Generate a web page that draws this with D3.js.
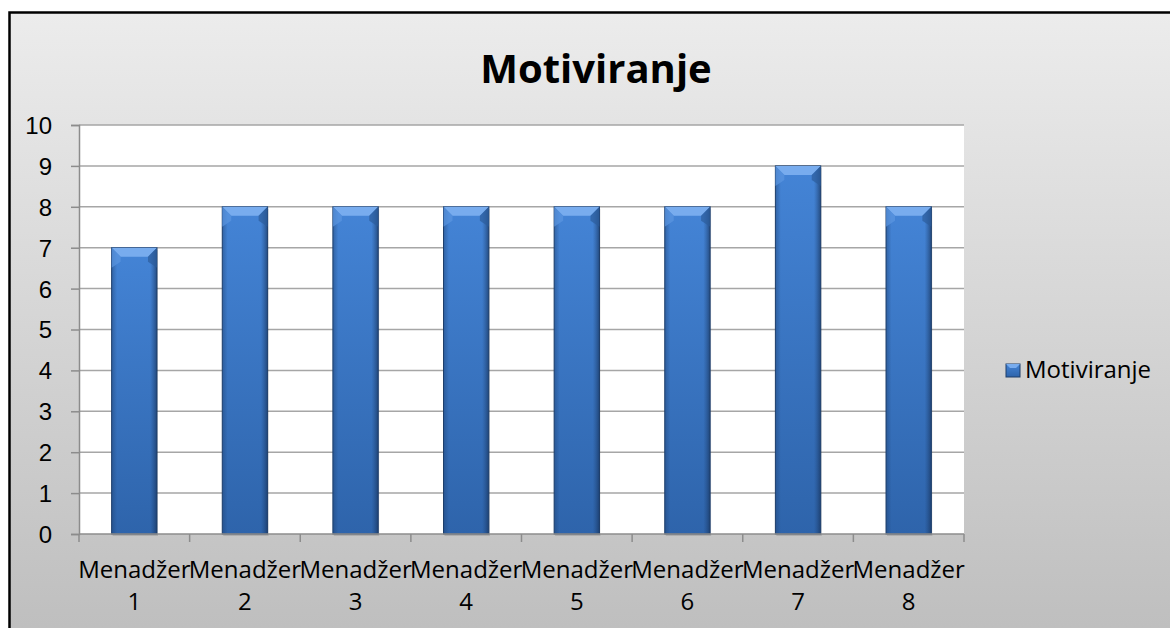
<!DOCTYPE html>
<html>
<head>
  <title>Motiviranje</title>
  <script src="https://d3js.org/d3.v7.min.js"></script>
  <style>
    body { margin: 0; background: #fff; }
    svg { font-family: "Open Sans", sans-serif; }
    .tick-label { font-size: 24px; fill: #000; }
  </style>
</head>
<body>
  <svg width="1170" height="628"></svg>

  <script>
    // chart data
    const categories = ["Menadžer 1", "Menadžer 2", "Menadžer 3", "Menadžer 4",
                        "Menadžer 5", "Menadžer 6", "Menadžer 7", "Menadžer 8"];
    const values = [7, 8, 8, 8, 8, 8, 9, 8];
    const yTicks = [0, 1, 2, 3, 4, 5, 6, 7, 8, 9, 10];
    const seriesName = "Motiviranje";

    const svg = d3.select("svg");
    const defs = svg.append("defs");

    // chart background gradient
    const bg = defs.append("linearGradient").attr("id", "bg")
      .attr("x1", 0).attr("y1", 0).attr("x2", 0).attr("y2", 1);
    bg.append("stop").attr("offset", "0%").attr("stop-color", "#ececec");
    bg.append("stop").attr("offset", "100%").attr("stop-color", "#bdbdbd");

    // bar body gradient
    const barG = defs.append("linearGradient").attr("id", "barG")
      .attr("x1", 0).attr("y1", 0).attr("x2", 0).attr("y2", 1);
    barG.append("stop").attr("offset", "0%").attr("stop-color", "#4484d6");
    barG.append("stop").attr("offset", "100%").attr("stop-color", "#2e64ab");

    const sideG = defs.append("linearGradient").attr("id", "sideG")
      .attr("x1", 0).attr("y1", 0).attr("x2", 1).attr("y2", 0);
    sideG.append("stop").attr("offset", "0%").attr("stop-color", "#1d3f6e").attr("stop-opacity", 0.45);
    sideG.append("stop").attr("offset", "12%").attr("stop-color", "#1d3f6e").attr("stop-opacity", 0);
    sideG.append("stop").attr("offset", "85%").attr("stop-color", "#1d3f6e").attr("stop-opacity", 0);
    sideG.append("stop").attr("offset", "100%").attr("stop-color", "#12284a").attr("stop-opacity", 0.6);

    svg.append("rect")
      .attr("x", 9.5).attr("y", 12.5).attr("width", 1180).attr("height", 640)
      .attr("fill", "url(#bg)").attr("stroke", "#000").attr("stroke-width", 2.5);

    svg.append("text")
      .attr("x", 596).attr("y", 83)
      .attr("text-anchor", "middle")
      .style("font-size", "40px").style("font-weight", "bold")
      .text(seriesName);

    const plot = { left: 79, right: 964, top: 125, bottom: 534 };

    const x = d3.scaleBand()
      .domain(categories)
      .range([plot.left, plot.right])
      .paddingInner(0.59).paddingOuter(0.295);

    const y = d3.scaleLinear()
      .domain([0, 10])
      .range([plot.bottom, plot.top]);

    // plot area
    svg.append("rect")
      .attr("x", plot.left).attr("y", plot.top)
      .attr("width", plot.right - plot.left).attr("height", plot.bottom - plot.top)
      .attr("fill", "#fff");

    // gridlines
    svg.append("g").selectAll("line")
      .data(yTicks.filter(d => d > 0))
      .join("line")
      .attr("x1", plot.left).attr("x2", plot.right)
      .attr("y1", d => y(d)).attr("y2", d => y(d))
      .attr("stroke", "#a6a6a6").attr("stroke-width", 1.5);

    // y axis
    const yAxis = svg.append("g")
      .attr("transform", `translate(${plot.left},0)`)
      .call(d3.axisLeft(y).tickValues(yTicks).tickSize(8).tickPadding(19));
    yAxis.select(".domain").attr("stroke", "#8c8c8c").attr("stroke-width", 1.5);
    yAxis.selectAll(".tick line").attr("stroke", "#8c8c8c").attr("stroke-width", 1.5);
    yAxis.selectAll(".tick text").attr("class", "tick-label")
      .attr("font-family", null).attr("font-size", null).attr("dy", "0.35em");

    // bars
    const bw = x.bandwidth();
    const bars = svg.append("g").selectAll("g")
      .data(values)
      .join("g")
      .attr("transform", (d, i) => `translate(${x(categories[i])},0)`);

    bars.append("rect")
      .attr("x", 1).attr("y", d => y(d) + 2)
      .attr("width", bw).attr("height", d => plot.bottom - y(d))
      .attr("fill", "#000").attr("opacity", 0.12);

    bars.append("rect")
      .attr("y", d => y(d)).attr("width", bw)
      .attr("height", d => plot.bottom - y(d))
      .attr("fill", "url(#barG)");
    bars.append("rect")
      .attr("y", d => y(d)).attr("width", bw)
      .attr("height", d => plot.bottom - y(d))
      .attr("fill", "url(#sideG)")
      .attr("stroke", "#1f3f6b").attr("stroke-width", 1);

    // bevel at top of bar
    const bev = 9;
    bars.append("path")
      .attr("d", d => `M0,${y(d)} L${bw},${y(d)} L${bw - bev},${y(d) + bev} L${bev},${y(d) + bev} Z`)
      .attr("fill", "#78acee");
    bars.append("path")
      .attr("d", d => `M0,${y(d)} L${bev},${y(d) + bev} L${bev},${y(d) + 14} L0,${y(d) + 20} Z`)
      .attr("fill", "#5b95df").attr("opacity", 0.7);
    bars.append("path")
      .attr("d", d => `M${bw},${y(d)} L${bw - bev},${y(d) + bev} L${bw - bev},${y(d) + 14} L${bw},${y(d) + 20} Z`)
      .attr("fill", "#2c5c9b").attr("opacity", 0.7);

    // x axis
    const xBounds = d3.range(categories.length + 1)
      .map(i => plot.left + i * (plot.right - plot.left) / categories.length);
    const xAxis = svg.append("g");
    xAxis.append("line")
      .attr("x1", plot.left).attr("x2", plot.right)
      .attr("y1", plot.bottom).attr("y2", plot.bottom)
      .attr("stroke", "#8c8c8c").attr("stroke-width", 1.5);
    xAxis.selectAll(".xt").data(xBounds).join("line")
      .attr("x1", d => d).attr("x2", d => d)
      .attr("y1", plot.bottom).attr("y2", plot.bottom + 8)
      .attr("stroke", "#8c8c8c").attr("stroke-width", 1.5);

    const labels = xAxis.selectAll("text").data(categories).join("text")
      .attr("class", "tick-label")
      .attr("text-anchor", "middle")
      .attr("x", d => x(d) + bw / 2);
    labels.append("tspan").attr("x", d => x(d) + bw / 2).attr("y", 578)
      .text(d => d.split(" ")[0]);
    labels.append("tspan").attr("x", d => x(d) + bw / 2).attr("y", 610)
      .text(d => d.split(" ")[1]);

    // legend
    const legend = svg.append("g").attr("transform", "translate(1006,364)");
    legend.append("rect").attr("width", 14).attr("height", 13)
      .attr("fill", "url(#barG)").attr("stroke", "#1f3f6b").attr("stroke-width", 1);
    legend.append("path").attr("d", "M0,0 L14,0 L10,4 L4,4 Z").attr("fill", "#78acee");
    legend.append("text").attr("class", "tick-label")
      .attr("x", 19).attr("y", 14).text(seriesName);
  </script>
</body>
</html>
